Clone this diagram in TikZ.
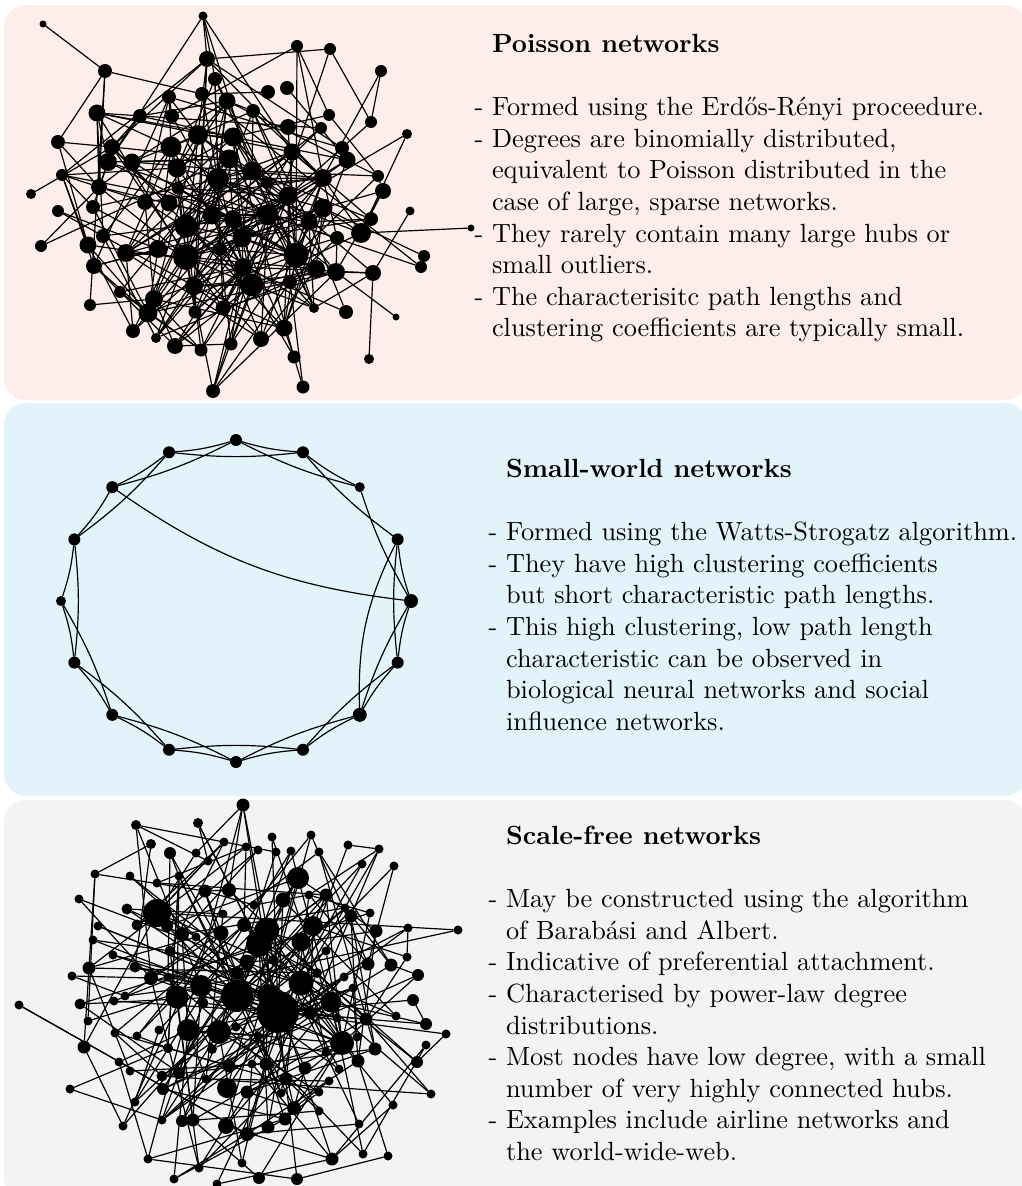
\documentclass[tikz,border=0pt]{standalone}
\usepackage{fontspec}
\usepackage{tikz}
\definecolor{poissonbg}{RGB}{253,238,236}
\definecolor{smallbg}{RGB}{227,243,251}
\definecolor{scalebg}{RGB}{242,243,243}
\pgfdeclarelayer{panel}
\pgfdeclarelayer{edges}
\pgfsetlayers{panel,edges,main}

\begin{document}
\begin{tikzpicture}[x=0.38pt, y=-0.38pt,
    vert/.style={circle, fill=black, inner sep=0pt, outer sep=0pt},
    link/.style={line width=0.45pt},
    panelbox/.style={rounded corners=8.4pt},
    blurb/.style={anchor=north west, inner sep=0pt}
]
\useasboundingbox (0,0) rectangle (1022,1186);

% coloured panels
\begin{pgfonlayer}{panel}
\fill[poissonbg, panelbox] (4,5) rectangle (1027,400);
\fill[smallbg, panelbox]   (4,403) rectangle (1027,796);
\fill[scalebg, panelbox]   (4,800) rectangle (1027,1200);
\end{pgfonlayer}

% descriptions
\node[blurb] (ptext) at (474,30) {\begin{tabular}{@{}l@{\ }l@{}}
  & \textbf{Poisson networks}\\
  & \\
- & Formed using the Erd\H{o}s-R\'enyi proceedure.\\
- & Degrees are binomially distributed,\\
  & equivalent to Poisson distributed in the\\
  & case of large, sparse networks.\\
- & They rarely contain many large hubs or\\
  & small outliers.\\
- & The characterisitc path lengths and\\
  & clustering coefficients are typically small.
\end{tabular}};
\node[blurb] (wtext) at (488,455) {\begin{tabular}{@{}l@{\ }l@{}}
  & \textbf{Small-world networks}\\
  & \\
- & Formed using the Watts-Strogatz algorithm.\\
- & They have high clustering coefficients\\
  & but short characteristic path lengths.\\
- & This high clustering, low path length\\
  & characteristic can be observed in\\
  & biological neural networks and social\\
  & influence networks.
\end{tabular}};
\node[blurb] (stext) at (488,822) {\begin{tabular}{@{}l@{\ }l@{}}
  & \textbf{Scale-free networks}\\
  & \\
- & May be constructed using the algorithm\\
  & of Barab\'asi and Albert.\\
- & Indicative of preferential attachment.\\
- & Characterised by power-law degree\\
  & distributions.\\
- & Most nodes have low degree, with a small\\
  & number of very highly connected hubs.\\
- & Examples include airline networks and\\
  & the world-wide-web.
\end{tabular}};

% Poisson network: x/y/radius
\foreach \px/\py/\pr [count=\k] in {
  43/24/3.5, 203/16/4.5, 105/71/7, 207/59/8, 215/79/7, 297/46/6, 330/49/6, 381/71/6, 169/97/7, 202/94/7,
  227/101/8.5, 268/92/7, 287/88/7, 97/113/8.5, 140/116/7, 172/116/7, 253/111/7, 288/127/8, 321/128/6, 329/115/6,
  371/122/6, 407/134/5, 58/142/7, 112/147/8, 198/135/10, 233/137/9.5, 171/147/10.5, 108/162/9, 132/162/8.5, 229/159/9.5,
  292/152/8.5, 342/148/7, 347/160/8.5, 62/175/6, 177/168/9.5, 218/179/11, 252/171/9.5, 323/178/9, 378/176/6, 99/187/8,
  178/188/6.5, 267/183/6, 31/194/5, 383/191/8, 58/211/6, 93/207/7, 145/202/8, 169/203/8.5, 288/196/9.5, 323/208/9.5,
  410/211/4.5, 212/215/9.5, 233/219/9, 268/215/10.5, 309/222/8.5, 186/226/11.5, 371/219/7, 361/233/10, 471/228/3.5, 41/246/6,
  88/245/8.5, 103/236/7, 242/238/9.5, 337/238/7, 126/253/9, 158/249/9, 186/257/13, 220/249/7, 296/255/12.5, 424/256/6,
  94/266/8, 243/267/9, 316/269/9, 336/272/9, 373/273/8, 421/267/6, 194/286/9, 252/285/11.5, 290/282/7, 120/292/6,
  154/299/9, 90/305/6, 148/313/9.5, 195/312/6.5, 223/308/7.5, 314/308/5, 346/312/7, 396/317/3.5, 133/331/7, 156/338/5,
  175/346/8, 201/350/6.5, 231/344/6.5, 261/339/8, 284/328/8.5, 294/357/6.5, 369/359/5, 213/391/7, 303/387/6.5}{
  \node[vert, minimum size=\pr*0.76pt] (p\k) at (\px,\py) {};
  \expandafter\xdef\csname pX\k\endcsname{\px}
  \expandafter\xdef\csname pY\k\endcsname{\py}
  \pgfmathsetmacro\pw{\pr-2.5}
  \expandafter\xdef\csname pW\k\endcsname{\pw}
}

\pgfmathsetseed{11}
\begin{pgfonlayer}{edges}
\foreach \i in {1,...,99}{
  \edef\xa{\csname pX\i\endcsname}\edef\ya{\csname pY\i\endcsname}
  \foreach \j in {\i,...,99}{
    \ifnum\j>\i
      \edef\xb{\csname pX\j\endcsname}\edef\yb{\csname pY\j\endcsname}
      \pgfmathsetmacro\dd{veclen(\xa-\xb,\ya-\yb)}
      \ifdim\dd pt<420pt
        \pgfmathsetmacro\pp{0.0075*\csname pW\i\endcsname*\csname pW\j\endcsname*exp(-(\dd/140)^2)}
        \pgfmathsetmacro\uu{rnd}
        \ifdim\uu pt<\pp pt \draw[link] (p\i) -- (p\j);\fi
      \fi
    \fi
  }
}
\draw[link] (p1) -- (p3) (p2) -- (p4) (p59) -- (p58) (p88) -- (p74) (p97) -- (p75);
\end{pgfonlayer}

% small-world ring: index/degree
\foreach \k/\dg in {0/4,1/4,2/3,3/4,4/5,5/4,6/5,7/4,8/4,9/4,10/4,11/4,12/3,13/4,14/4,15/4}{
  \node[vert, minimum size=(\dg+2)*0.76pt] (w\k)
    at ({236+175*cos(90-22.5*\k)},{601-161*sin(90-22.5*\k)}) {};
}
\begin{pgfonlayer}{edges}
\foreach \a/\b in {0/1,1/2,3/4,4/5,5/6,6/7,7/8,8/9,9/10,10/11,11/12,12/13,13/14,14/15,15/0,
                   0/2,1/3,2/4,3/5,4/6,5/7,6/8,7/9,8/10,9/11,10/12,11/13,13/15,14/0,15/1}{
  \draw[link] (w\a) to[bend right=6] (w\b);
}
\draw[link] (w14) to[bend right=14] (w4);
\draw[link] (w3) to[bend right=14] (w6);
\end{pgfonlayer}

% scale-free network: x/y/radius
\foreach \px/\py/\pr [count=\k] in {
  243/805/6.5, 136/825/5, 198/823/5, 151/844/5, 170/853/6, 196/853/4.5, 208/861/4.5, 224/842/4.5, 246/847/4.5, 258/850/4.5,
  272/837/4.5, 276/852/4.5, 291/851/4.5, 311/835/4.5, 319/852/4.5, 348/845/4.5, 379/849/4.5, 362/864/4.5, 394/866/4.5, 298/878/11,
  95/874/4.5, 130/876/4.5, 157/883/4.5, 179/876/4.5, 205/891/6.5, 229/890/7, 283/900/7.5, 309/895/4.5, 326/895/6.5, 79/899/4.5,
  127/909/5.5, 157/913/14, 254/905/4.5, 223/914/4.5, 345/908/4.5, 351/916/6.5, 370/913/4.5, 98/926/4.5, 137/925/5.5, 167/926/6,
  182/934/7, 196/937/4.5, 221/933/7.5, 244/925/7, 267/930/12.5, 259/944/13, 313/926/10, 301/942/9.5, 376/931/6.5, 408/928/4.5,
  458/930/4.5, 93/940/4.5, 170/951/5.5, 326/951/4.5, 113/955/4.5, 247/962/7.5, 273/960/5, 89/968/6.5, 135/967/5.5, 237/973/6.5,
  368/964/6.5, 391/965/6.5, 407/957/4.5, 72/976/4.5, 151/978/7, 168/977/4.5, 201/986/11, 301/983/12.5, 317/973/5, 344/977/4.5,
  418/975/6, 19/1005/4.5, 80/1004/5.5, 114/1001/4.5, 125/996/4.5, 177/997/11.5, 203/1003/5.5, 237/996/16, 268/995/11, 278/1012/21,
  331/1002/10.5, 353/988/4.5, 413/1000/6, 88/1021/4.5, 310/1013/6.5, 337/1018/4.5, 366/1019/6.5, 396/1016/4.5, 426/1024/6, 446/1034/4.5,
  115/1033/4.5, 137/1036/4.5, 159/1030/4.5, 188/1030/11, 219/1032/12, 236/1027/4.5, 342/1043/12, 357/1037/4.5, 375/1049/6.5, 426/1045/4.5,
  84/1047/6.5, 168/1048/5, 212/1049/5, 258/1036/4.5, 326/1052/4.5, 119/1062/4.5, 130/1071/4.5, 179/1073/6, 206/1079/4.5, 229/1066/6.5,
  252/1064/4.5, 266/1064/6.5, 305/1068/6.5, 339/1069/4.5, 358/1061/6.5, 417/1062/6, 162/1076/5.5, 286/1079/6.5, 329/1081/4.5, 70/1089/4.5,
  163/1089/6, 227/1088/10, 247/1092/6.5, 281/1093/4.5, 319/1092/4.5, 431/1094/4.5, 135/1102/4.5, 294/1108/7, 319/1111/4.5, 393/1105/4.5,
  123/1126/4.5, 162/1120/4.5, 182/1121/6, 193/1120/6.5, 226/1126/8, 247/1134/7, 268/1127/6.5, 285/1119/6.5, 359/1124/4.5, 148/1159/4.5,
  199/1168/4.5, 242/1163/4.5, 332/1159/6.5, 363/1154/4.5, 388/1156/4.5, 174/1179/4.5, 217/1184/4.5, 259/1178/6, 297/1179/6}{
  \node[vert, minimum size=\pr*0.76pt] (s\k) at (\px,\py) {};
  \expandafter\xdef\csname sX\k\endcsname{\px}
  \expandafter\xdef\csname sY\k\endcsname{\py}
  \pgfmathsetmacro\pw{0.0988*\pr*\pr}
  \expandafter\xdef\csname sW\k\endcsname{\pw}
}

\pgfmathsetseed{5}
\begin{pgfonlayer}{edges}
% each vertex attaches twice, partners drawn in proportion to weight
\foreach \pass in {1,2}{
  \foreach \i in {1,...,149}{
    \gdef\bestval{16000}\gdef\bestj{1}
    \edef\xa{\csname sX\i\endcsname}\edef\ya{\csname sY\i\endcsname}
    \foreach \j in {1,...,149}{
      \ifnum\j=\i\else
        \edef\xb{\csname sX\j\endcsname}\edef\yb{\csname sY\j\endcsname}
        \pgfmathsetmacro\dd{veclen(\xa-\xb,\ya-\yb)}
        \pgfmathsetmacro\ss{-ln(rnd+0.00001)/(\csname sW\j\endcsname*exp(-\dd/120))}
        \ifdim\ss pt<\bestval pt \xdef\bestval{\ss}\xdef\bestj{\j}\fi
      \fi
    }
    \draw[link] (s\i) -- (s\bestj);
  }
}
\end{pgfonlayer}
\end{tikzpicture}
\end{document}
